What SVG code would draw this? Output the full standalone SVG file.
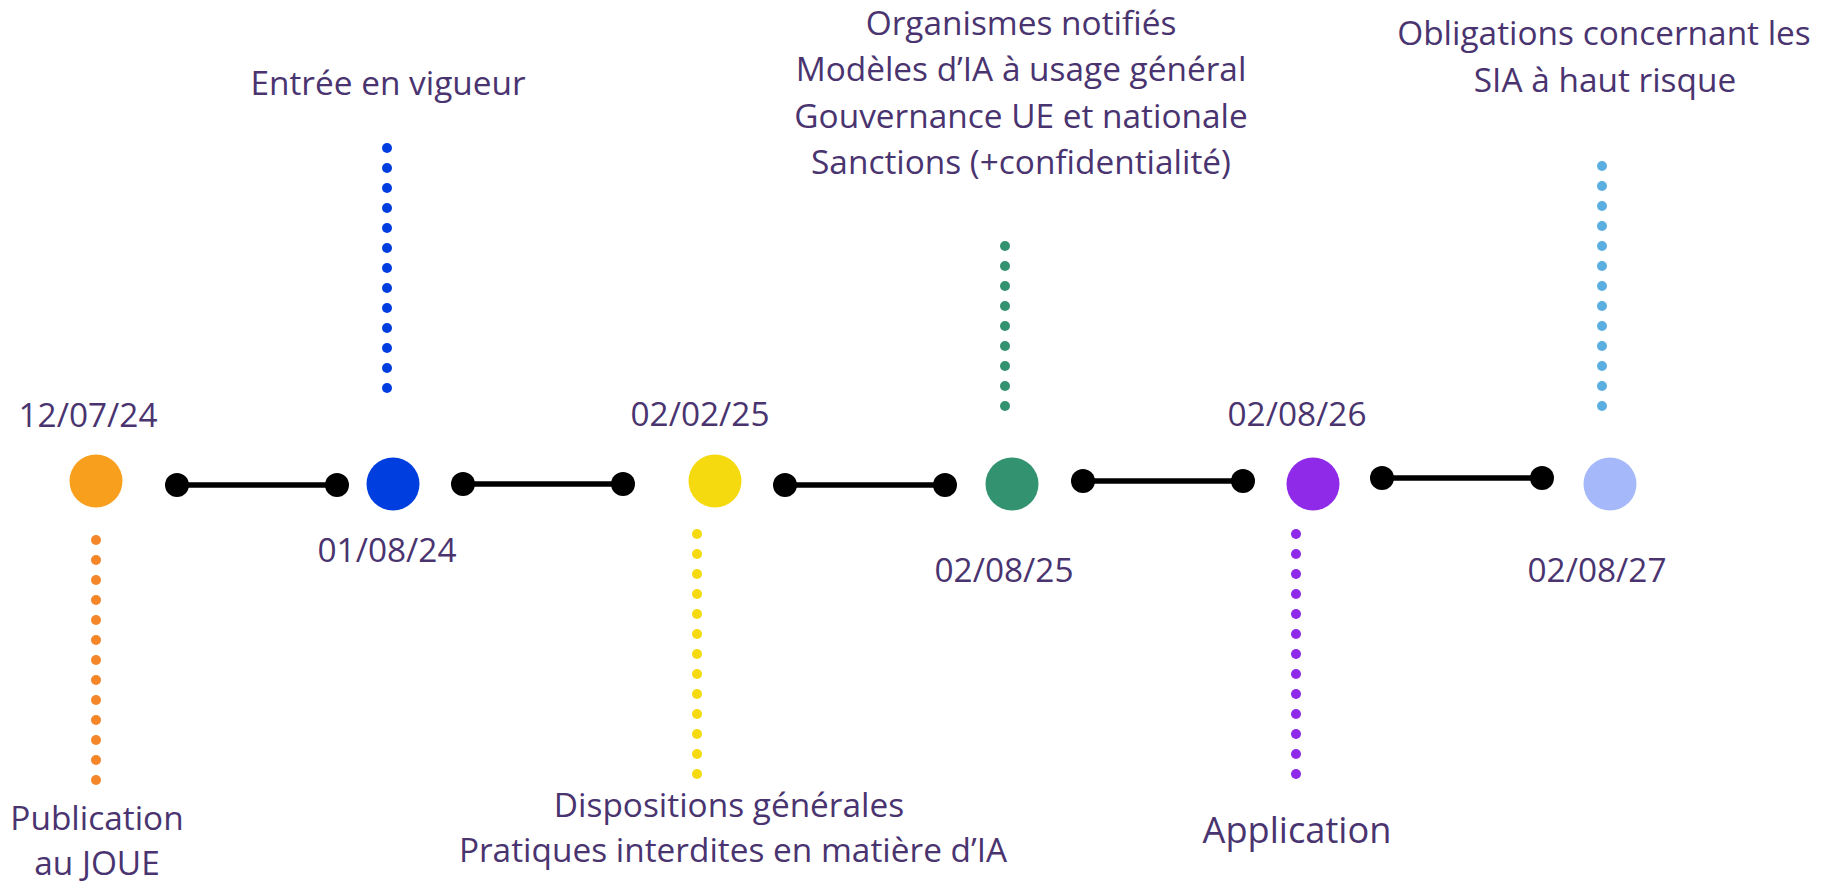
<svg xmlns="http://www.w3.org/2000/svg" width="1824" height="882" viewBox="0 0 1824 882">
<style>
text{font-family:"Open Sans","Noto Sans","Liberation Sans",sans-serif;font-size:33.4px;fill:#4a3470;text-anchor:middle}
.conn line{stroke:#000;stroke-width:5.5}
.conn circle{fill:#000}
.big{font-size:36.2px}
</style>
<rect width="1824" height="882" fill="#fff"/>
<g id="connectors" class="conn">
<line x1="177" y1="485" x2="337" y2="485"/><circle cx="177" cy="485" r="12"/><circle cx="337" cy="485" r="12"/>
<line x1="463" y1="484" x2="623" y2="484"/><circle cx="463" cy="484" r="12"/><circle cx="623" cy="484" r="12"/>
<line x1="785" y1="485" x2="945" y2="485"/><circle cx="785" cy="485" r="12"/><circle cx="945" cy="485" r="12"/>
<line x1="1083" y1="481" x2="1243" y2="481"/><circle cx="1083" cy="481" r="12"/><circle cx="1243" cy="481" r="12"/>
<line x1="1382" y1="478" x2="1542" y2="478"/><circle cx="1382" cy="478" r="12"/><circle cx="1542" cy="478" r="12"/>
</g>
<g id="n1">
<circle cx="96" cy="481" r="26.5" fill="#F8A01D"/>
<text x="88" y="427">12/07/24</text>
<g fill="#F5862A"><circle cx="96" cy="540" r="5"/><circle cx="96" cy="560" r="5"/><circle cx="96" cy="580" r="5"/><circle cx="96" cy="600" r="5"/><circle cx="96" cy="620" r="5"/><circle cx="96" cy="640" r="5"/><circle cx="96" cy="660" r="5"/><circle cx="96" cy="680" r="5"/><circle cx="96" cy="700" r="5"/><circle cx="96" cy="720" r="5"/><circle cx="96" cy="740" r="5"/><circle cx="96" cy="760" r="5"/><circle cx="96" cy="780" r="5"/></g>
<text x="97" y="830">Publication</text>
<text x="97" y="875">au JOUE</text>
</g>
<g id="n2">
<circle cx="393" cy="484" r="26.5" fill="#003EDF"/>
<text x="387" y="562">01/08/24</text>
<g fill="#003EDF"><circle cx="387" cy="148" r="5"/><circle cx="387" cy="168" r="5"/><circle cx="387" cy="188" r="5"/><circle cx="387" cy="208" r="5"/><circle cx="387" cy="228" r="5"/><circle cx="387" cy="248" r="5"/><circle cx="387" cy="268" r="5"/><circle cx="387" cy="288" r="5"/><circle cx="387" cy="308" r="5"/><circle cx="387" cy="328" r="5"/><circle cx="387" cy="348" r="5"/><circle cx="387" cy="368" r="5"/><circle cx="387" cy="388" r="5"/></g>
<text x="388" y="95">Entrée en vigueur</text>
</g>
<g id="n3">
<circle cx="715" cy="481" r="26.5" fill="#F6DA10"/>
<text x="700" y="426">02/02/25</text>
<g fill="#F6DA10"><circle cx="697" cy="534" r="5"/><circle cx="697" cy="554" r="5"/><circle cx="697" cy="574" r="5"/><circle cx="697" cy="594" r="5"/><circle cx="697" cy="614" r="5"/><circle cx="697" cy="634" r="5"/><circle cx="697" cy="654" r="5"/><circle cx="697" cy="674" r="5"/><circle cx="697" cy="694" r="5"/><circle cx="697" cy="714" r="5"/><circle cx="697" cy="734" r="5"/><circle cx="697" cy="754" r="5"/><circle cx="697" cy="774" r="5"/></g>
<text x="729" y="817">Dispositions générales</text>
<text x="733" y="862">Pratiques interdites en matière d’IA</text>
</g>
<g id="n4">
<circle cx="1012" cy="484" r="26.5" fill="#339370"/>
<text x="1004" y="582">02/08/25</text>
<g fill="#339370"><circle cx="1005" cy="246" r="5"/><circle cx="1005" cy="266" r="5"/><circle cx="1005" cy="286" r="5"/><circle cx="1005" cy="306" r="5"/><circle cx="1005" cy="326" r="5"/><circle cx="1005" cy="346" r="5"/><circle cx="1005" cy="366" r="5"/><circle cx="1005" cy="386" r="5"/><circle cx="1005" cy="406" r="5"/></g>
<text x="1021" y="35">Organismes notifiés</text>
<text x="1021" y="81">Modèles d’IA à usage général</text>
<text x="1021" y="128">Gouvernance UE et nationale</text>
<text x="1021" y="174">Sanctions (+confidentialité)</text>
</g>
<g id="n5">
<circle cx="1313" cy="484" r="26.5" fill="#8E2AE8"/>
<text x="1297" y="426">02/08/26</text>
<g fill="#8E2AE8"><circle cx="1296" cy="534" r="5"/><circle cx="1296" cy="554" r="5"/><circle cx="1296" cy="574" r="5"/><circle cx="1296" cy="594" r="5"/><circle cx="1296" cy="614" r="5"/><circle cx="1296" cy="634" r="5"/><circle cx="1296" cy="654" r="5"/><circle cx="1296" cy="674" r="5"/><circle cx="1296" cy="694" r="5"/><circle cx="1296" cy="714" r="5"/><circle cx="1296" cy="734" r="5"/><circle cx="1296" cy="754" r="5"/><circle cx="1296" cy="774" r="5"/></g>
<text class="big" x="1297" y="843">Application</text>
</g>
<g id="n6">
<circle cx="1610" cy="484" r="26.5" fill="#A5B9FA"/>
<text x="1597" y="582">02/08/27</text>
<g fill="#5AAFE0"><circle cx="1602" cy="166" r="5"/><circle cx="1602" cy="186" r="5"/><circle cx="1602" cy="206" r="5"/><circle cx="1602" cy="226" r="5"/><circle cx="1602" cy="246" r="5"/><circle cx="1602" cy="266" r="5"/><circle cx="1602" cy="286" r="5"/><circle cx="1602" cy="306" r="5"/><circle cx="1602" cy="326" r="5"/><circle cx="1602" cy="346" r="5"/><circle cx="1602" cy="366" r="5"/><circle cx="1602" cy="386" r="5"/><circle cx="1602" cy="406" r="5"/></g>
<text x="1604" y="45">Obligations concernant les</text>
<text x="1605" y="92">SIA à haut risque</text>
</g>
</svg>
